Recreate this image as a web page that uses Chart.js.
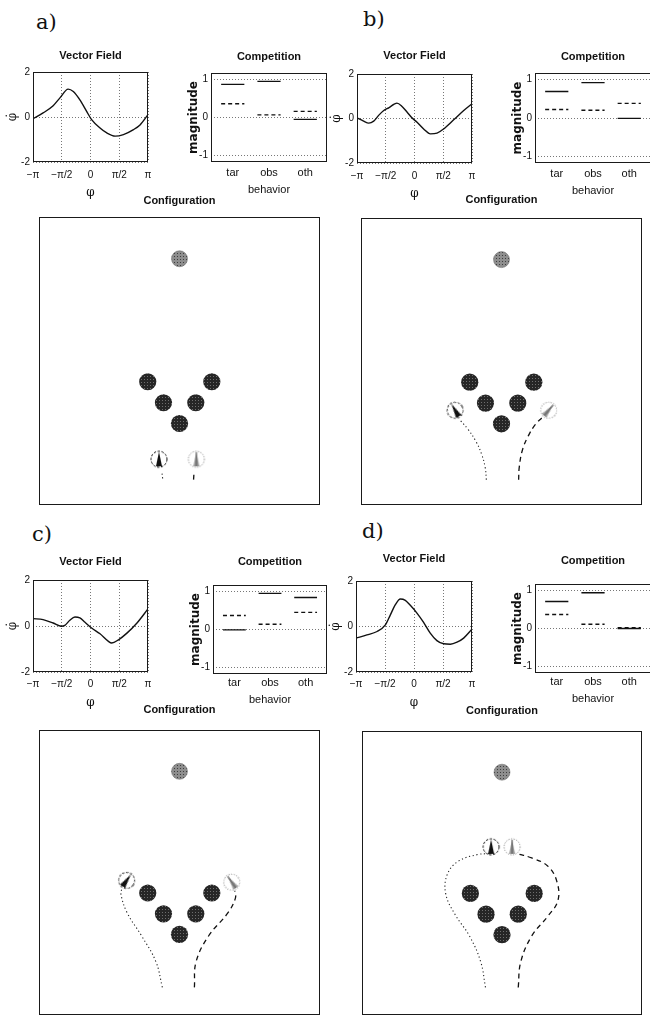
<!DOCTYPE html>
<html lang="en">
<head>
<meta charset="UTF-8">
<title>Vector field, competition and configuration</title>
<script src="https://cdn.jsdelivr.net/npm/chart.js"></script>
<style>
  html, body { margin: 0; padding: 0; overflow: hidden; background: #fff; }
  body { position: relative; width: 650px; height: 1022px; }
  canvas { position: absolute; }
  .tag { position: absolute; font-family: 'DejaVu Serif', 'Liberation Serif', serif; font-size: 21px; line-height: 1; color: #111; }
</style>
</head>
<body>
<div class="tag" style="left:36px;top:12px">a)</div>
<div class="tag" style="left:363px;top:9px">b)</div>
<div class="tag" style="left:32px;top:524px">c)</div>
<div class="tag" style="left:362px;top:521px">d)</div>

<script>
  // ---------- data ----------
  const phiTicks = [-Math.PI, -Math.PI / 2, 0, Math.PI / 2, Math.PI];
  const phiLabels = ['−π', '−π/2', '0', 'π/2', 'π'];
  const fieldTicks = [-2, 0, 2];
  const behaviors = ['tar', 'obs', 'oth'];
  const compTicks = [-1, 0, 1];

  // vector field dphi(phi), one pair of arrays per panel
  const phiA = [-3.14, -2.59, -2.04, -1.68, -1.22, -0.94, -0.58, -0.21, 0.06, 0.52, 0.89, 1.35, 1.80, 2.35, 2.72, 3.14];
  const dphiA = [-0.07, 0.18, 0.5, 0.84, 1.24, 1.13, 0.76, 0.25, -0.12, -0.49, -0.71, -0.85, -0.78, -0.56, -0.34, 0.1];
  const phiB = [-3.14, -2.78, -2.50, -2.23, -1.96, -1.68, -1.41, -0.96, -0.68, -0.41, -0.14, 0.14, 0.50, 0.87, 1.23, 1.59, 2.14, 2.69, 3.14];
  const dphiB = [0.03, -0.12, -0.21, -0.12, 0.14, 0.36, 0.48, 0.69, 0.54, 0.29, 0.03, -0.17, -0.47, -0.69, -0.66, -0.47, -0.06, 0.36, 0.66];
  const phiC = [-3.14, -2.59, -2.04, -1.59, -1.40, -1.13, -0.85, -0.58, -0.30, 0.06, 0.52, 0.98, 1.16, 1.53, 1.99, 2.54, 3.14];
  const dphiC = [0.32, 0.28, 0.13, -0.01, 0.03, 0.25, 0.39, 0.35, 0.16, -0.09, -0.34, -0.67, -0.74, -0.6, -0.31, 0.13, 0.74];
  const phiD = [-3.14, -2.55, -2.00, -1.55, -1.28, -1.01, -0.74, -0.47, -0.20, 0.16, 0.52, 0.88, 1.24, 1.61, 1.97, 2.33, 2.69, 3.14];
  const dphiD = [-0.51, -0.37, -0.22, 0.07, 0.51, 0.96, 1.21, 1.15, 0.93, 0.59, 0.18, -0.29, -0.62, -0.76, -0.78, -0.69, -0.51, -0.12];

  // competition: solid and dashed magnitudes for tar / obs / oth
  const solidA = [0.87, 0.95, -0.05];
  const dashedA = [0.36, 0.07, 0.16];
  const solidB = [0.69, 0.92, -0.01];
  const dashedB = [0.22, 0.2, 0.38];
  const solidC = [-0.01, 0.95, 0.84];
  const dashedC = [0.37, 0.14, 0.45];
  const solidD = [0.71, 0.94, 0.0];
  const dashedD = [0.37, 0.11, 0.02];

  // configuration (scene units 0..10)
  const targetX = [5.0];
  const targetY = [8.55];
  const obstacleX = [3.87, 4.43, 5.0, 5.58, 6.15];
  const obstacleY = [4.28, 3.55, 2.83, 3.55, 4.28];

  const agentXA = [4.27, 5.6], agentYA = [1.59, 1.59], headingA = [0, 0];
  const dotXA = [4.4, 4.37], dotYA = [0.92, 1.16];
  const dashXA = [5.5, 5.52], dashYA = [0.88, 1.18];

  const agentXB = [3.35, 6.68], agentYB = [3.3, 3.3], headingB = [-30, 40];
  const dotXB = [4.46, 4.42, 4.3, 4.1, 3.8, 3.53];
  const dotYB = [0.88, 1.3, 1.75, 2.2, 2.65, 2.95];
  const dashXB = [5.61, 5.63, 5.74, 5.95, 6.2, 6.45];
  const dashYB = [0.88, 1.3, 1.9, 2.4, 2.8, 3.05];

  const agentXC = [3.12, 6.86], agentYC = [4.72, 4.66], headingC = [35, -35];
  const dotXC = [4.39, 4.16, 3.65, 3.14, 2.91, 2.97];
  const dotYC = [0.97, 1.87, 2.78, 3.58, 4.27, 4.45];
  const dashXC = [5.53, 5.59, 6.04, 6.72, 6.99, 6.97];
  const dashYC = [0.97, 1.87, 2.78, 3.58, 4.1, 4.36];

  const agentXD = [4.61, 5.36], agentYD = [5.92, 5.92], headingD = [0, 0];
  const dotXD = [4.41, 4.24, 3.84, 3.33, 2.99, 3.05, 3.45, 4.13, 4.53];
  const dotYD = [0.97, 1.87, 2.78, 3.53, 4.27, 4.96, 5.42, 5.65, 5.68];
  const dashXD = [5.58, 5.67, 6.06, 6.63, 7.0, 6.95, 6.63, 6.06, 5.55];
  const dashYD = [0.97, 1.87, 2.78, 3.47, 4.04, 4.73, 5.25, 5.53, 5.68];

  // ---------- style / layout ----------
  const sans = "'Liberation Sans', Arial, sans-serif";
  const serif = "'DejaVu Serif', 'Liberation Serif', serif";
  const ink = '#111';

  // plot boxes in page pixels: [left, top, right, bottom], plus title centre y
  const panels = [
    { vf: [33, 72, 148, 162], vfT: 56, cp: [211, 73, 327, 162], cpT: 57, cf: [33, 217, 326, 511], cfT: 201, vfPad: 7, cpPad: 4, cpH: 35 },
    { vf: [357, 74, 472, 163], vfT: 56, cp: [535, 73, 651, 163], cpT: 57, cf: [355, 218, 648, 511], cfT: 200, vfPad: 7, cpPad: 4, cpH: 35 },
    { vf: [33, 580, 148, 672], vfT: 562, cp: [213, 585, 327, 674], cpT: 562, cf: [33, 730, 326, 1021], cfT: 710, vfPad: 6, cpPad: 2.5, cpH: 33 },
    { vf: [356, 581, 472, 672], vfT: 559, cp: [535, 584, 651, 673], cpT: 561, cf: [356, 731, 648, 1021], cfT: 711, vfPad: 6, cpPad: 2.5, cpH: 33 }
  ];

  const pts = (xs, ys) => xs.map((x, i) => ({ x: x, y: ys[i] }));

  function place(left, top, w, h) {
    const c = document.createElement('canvas');
    c.width = w; c.height = h;
    c.style.left = left + 'px';
    c.style.top = top + 'px';
    document.body.appendChild(c);
    return c;
  }

  // closed frame around the plot area
  const framePlugin = {
    id: 'frame',
    afterDatasetsDraw(chart) {
      const a = chart.chartArea, ctx = chart.ctx;
      ctx.save();
      ctx.strokeStyle = '#1a1a1a';
      ctx.lineWidth = 1;
      ctx.strokeRect(a.left + 0.5, a.top + 0.5, a.right - a.left - 1, a.bottom - a.top - 1);
      ctx.restore();
    }
  };

  function titleOpts(text, box, ty) {
    return {
      display: true, text: text, fullSize: false, color: ink,
      font: { family: sans, size: 11, weight: 'bold' },
      padding: { top: 2.4, bottom: box[1] - ty - 6.6 }
    };
  }

  function vectorField(p, phi, dphi) {
    const b = p.vf, yW = 33, padR = 12, xH = 38;
    const top = p.vfT - 9;
    const canvas = place(b[0] - yW, top, b[2] - b[0] + yW + padR, b[3] - top + xH);
    new Chart(canvas, {
      type: 'line',
      data: {
        datasets: [{
          data: pts(phi, dphi),
          borderColor: ink, borderWidth: 1.4, pointRadius: 0,
          cubicInterpolationMode: 'monotone'
        }]
      },
      options: {
        responsive: false, animation: false, events: [],
        layout: { padding: { left: 0, right: padR, top: 0, bottom: 0 } },
        plugins: {
          legend: { display: false }, tooltip: { enabled: false },
          title: titleOpts('Vector Field', b, p.vfT)
        },
        scales: {
          x: {
            type: 'linear', min: -Math.PI, max: Math.PI,
            afterBuildTicks: s => { s.ticks = phiTicks.map(v => ({ value: v })); },
            afterFit: s => { s.height = xH; },
            ticks: { callback: (v, i) => phiLabels[i], autoSkip: false, maxRotation: 0, padding: p.vfPad, color: ink, font: { family: sans, size: 10 } },
            grid: { color: '#777', drawTicks: false },
            border: { display: false, dash: [1, 2] },
            title: { display: true, text: 'φ', color: ink, padding: 0, font: { family: serif, size: 12 } }
          },
          y: {
            min: -2, max: 2,
            afterBuildTicks: s => { s.ticks = fieldTicks.map(v => ({ value: v })); },
            afterFit: s => { s.width = yW; },
            ticks: { padding: 3, color: ink, font: { family: sans, size: 10 } },
            grid: { color: '#777', drawTicks: false },
            border: { display: false, dash: [1, 2] },
            title: { display: true, text: 'φ̇', color: ink, padding: { top: yW - 20 - 7.2, bottom: 0 }, font: { family: serif, size: 12 } }
          }
        }
      },
      plugins: [framePlugin]
    });
  }

  // each magnitude is a short horizontal bar centred on its behaviour
  function segments(values) {
    const out = [];
    values.forEach((v, i) => {
      out.push({ x: i + 0.68, y: v }, { x: i + 1.32, y: v }, { x: i + 1.32, y: null });
    });
    return out;
  }

  function competition(p, solid, dashed) {
    const b = p.cp, yW = 33, padR = 12, xH = p.cpH;
    const top = p.cpT - 9;
    const canvas = place(b[0] - yW, top, b[2] - b[0] + yW + padR, b[3] - top + xH);
    new Chart(canvas, {
      type: 'line',
      data: {
        datasets: [
          { data: segments(solid), borderColor: ink, borderWidth: 1.4, pointRadius: 0, spanGaps: false },
          { data: segments(dashed), borderColor: ink, borderWidth: 1.4, borderDash: [4, 3], pointRadius: 0, spanGaps: false }
        ]
      },
      options: {
        responsive: false, animation: false, events: [],
        layout: { padding: { left: 0, right: padR, top: 0, bottom: 0 } },
        plugins: {
          legend: { display: false }, tooltip: { enabled: false },
          title: titleOpts('Competition', b, p.cpT)
        },
        scales: {
          x: {
            type: 'linear', min: 0.4, max: 3.6,
            afterBuildTicks: s => { s.ticks = behaviors.map((n, i) => ({ value: i + 1 })); },
            afterFit: s => { s.height = xH; },
            ticks: { callback: (v, i) => behaviors[i], autoSkip: false, maxRotation: 0, padding: p.cpPad, color: ink, font: { family: sans, size: 11 } },
            grid: { display: false, drawTicks: false },
            border: { display: false },
            title: { display: true, text: 'behavior', color: ink, padding: 0, font: { family: sans, size: 11 } }
          },
          y: {
            min: -1.17, max: 1.17,
            afterBuildTicks: s => { s.ticks = compTicks.map(v => ({ value: v })); },
            afterFit: s => { s.width = yW; },
            ticks: { padding: 3, color: ink, font: { family: sans, size: 10 } },
            grid: { color: '#777', drawTicks: false },
            border: { display: false, dash: [1, 2] },
            title: { display: true, text: 'magnitude', color: ink, padding: { top: yW - 17 - 7.2, bottom: 0 }, font: { family: 'DejaVu Sans', size: 12, weight: 'bold' } }
          }
        }
      },
      plugins: [framePlugin]
    });
  }

  // stippled fills for target and obstacles
  function stipple(base, dot) {
    const c = document.createElement('canvas');
    c.width = 3; c.height = 3;
    const g = c.getContext('2d');
    g.fillStyle = base; g.fillRect(0, 0, 3, 3);
    g.fillStyle = dot; g.fillRect(1, 1, 1, 1);
    return g.createPattern(c, 'repeat');
  }

  // agent symbol: dashed ring with a slim wedge pointing along the heading
  function agentIcon(dark) {
    const c = document.createElement('canvas');
    c.width = 20; c.height = 20;
    const g = c.getContext('2d');
    g.strokeStyle = dark ? '#111' : '#8a8a8a';
    g.lineWidth = 1;
    g.setLineDash(dark ? [2.5, 1.5] : [1.2, 1.4]);
    g.beginPath(); g.arc(10, 10, 8, 0, 2 * Math.PI); g.stroke();
    g.setLineDash([]);
    g.fillStyle = dark ? '#111' : '#9a9a9a';
    g.beginPath(); g.moveTo(10, 2.5); g.lineTo(13, 17); g.lineTo(7, 17); g.closePath(); g.fill();
    if (!dark) {
      g.strokeStyle = '#555';
      g.beginPath(); g.moveTo(10, 3); g.lineTo(10, 17); g.stroke();
    }
    return c;
  }

  const obstacleFill = stipple('#262626', '#6e6e6e');
  const targetFill = stipple('#8e8e8e', '#3e3e3e');
  const iconDark = agentIcon(true);
  const iconGrey = agentIcon(false);

  function configuration(p, ax, ay, heading, dx, dy, sx, sy) {
    const b = p.cf, pad = 4;
    const top = p.cfT - 9;
    const canvas = place(b[0] - pad, top, b[2] - b[0] + 2 * pad, b[3] - top + pad);
    new Chart(canvas, {
      type: 'scatter',
      data: {
        datasets: [
          { data: pts(ax, ay), pointStyle: [iconDark, iconGrey], rotation: heading, pointRadius: 9 },
          { data: pts(targetX, targetY), pointRadius: 8, backgroundColor: targetFill, borderColor: '#666', borderWidth: 0.5 },
          { data: pts(obstacleX, obstacleY), pointRadius: 8.6, backgroundColor: obstacleFill, borderWidth: 0 },
          { type: 'line', data: pts(dx, dy), borderColor: '#222', borderWidth: 1.1, borderDash: [1.2, 2.6], pointRadius: 0, tension: 0.4 },
          { type: 'line', data: pts(sx, sy), borderColor: '#111', borderWidth: 1.3, borderDash: [5, 4], pointRadius: 0, tension: 0.4 }
        ]
      },
      options: {
        responsive: false, animation: false, events: [],
        layout: { padding: { left: pad, right: pad, top: 0, bottom: pad } },
        plugins: {
          legend: { display: false }, tooltip: { enabled: false },
          title: titleOpts('Configuration', b, p.cfT)
        },
        scales: {
          x: { type: 'linear', min: 0, max: 10, display: false },
          y: { type: 'linear', min: 0, max: 10, display: false }
        }
      },
      plugins: [framePlugin]
    });
  }

  vectorField(panels[0], phiA, dphiA);
  competition(panels[0], solidA, dashedA);
  configuration(panels[0], agentXA, agentYA, headingA, dotXA, dotYA, dashXA, dashYA);

  vectorField(panels[1], phiB, dphiB);
  competition(panels[1], solidB, dashedB);
  configuration(panels[1], agentXB, agentYB, headingB, dotXB, dotYB, dashXB, dashYB);

  vectorField(panels[2], phiC, dphiC);
  competition(panels[2], solidC, dashedC);
  configuration(panels[2], agentXC, agentYC, headingC, dotXC, dotYC, dashXC, dashYC);

  vectorField(panels[3], phiD, dphiD);
  competition(panels[3], solidD, dashedD);
  configuration(panels[3], agentXD, agentYD, headingD, dotXD, dotYD, dashXD, dashYD);
</script>
</body>
</html>
